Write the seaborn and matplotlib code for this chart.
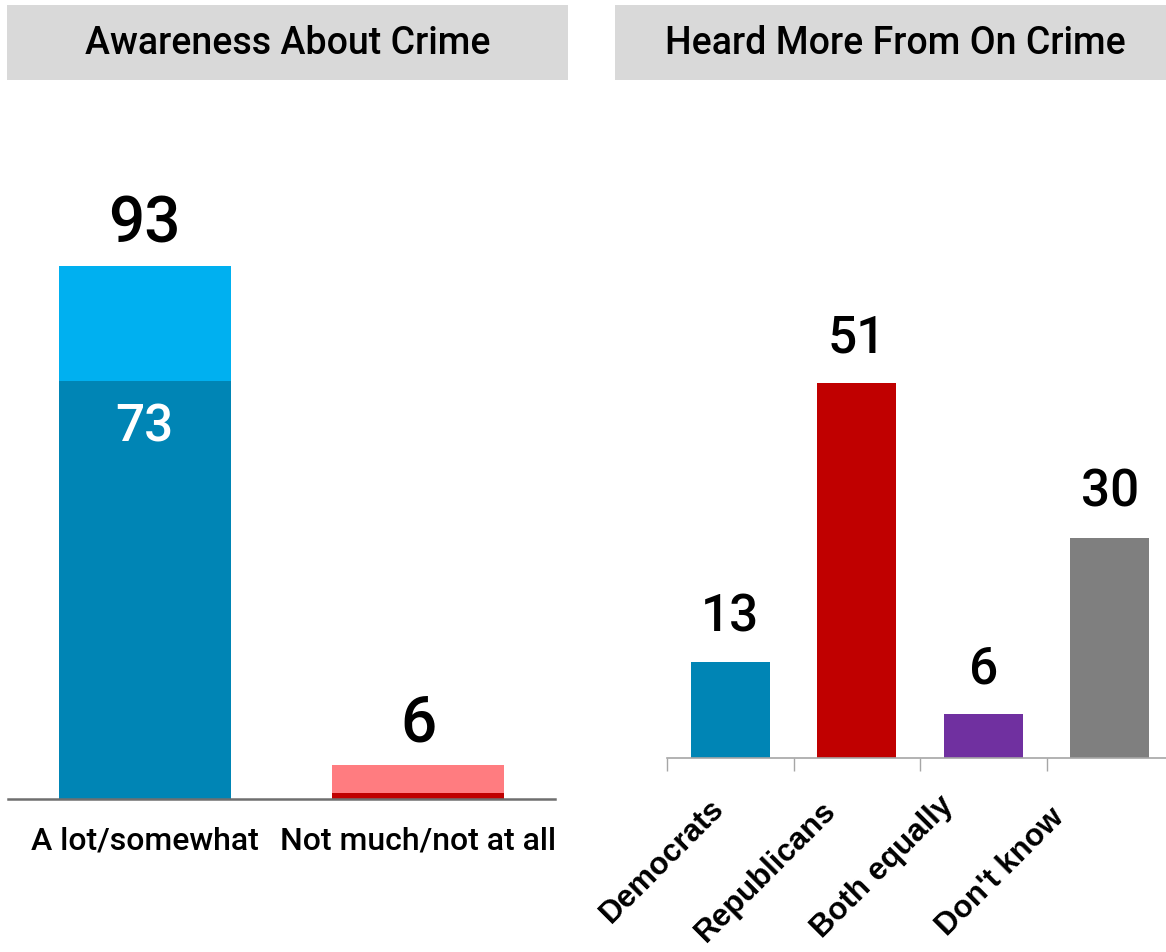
import matplotlib
matplotlib.use("Agg")
import matplotlib.pyplot as plt
from matplotlib.patches import Rectangle
import seaborn as sns
import pandas as pd

# Awareness panel: total share and the stronger sub-share inside it
awareness_cats = ["A lot/somewhat", "Not much/not at all"]
awareness_total = [93, 6]
awareness_inner = [73, 1]

# Heard-more-from panel
heard_cats = ["Democrats", "Republicans", "Both equally", "Don't know"]
heard_vals = [13, 51, 6, 30]

panel_titles = ["Awareness About Crime", "Heard More From On Crime"]

total_colors = ["#00B0F0", "#FF7C80"]
inner_colors = ["#0085B5", "#C00000"]
heard_colors = ["#0085B5", "#C00000", "#7030A0", "#7F7F7F"]

sns.set_theme(style="white")
plt.rcParams["font.family"] = ["Roboto", "DejaVu Sans"]

W, H = 1166, 952
fig = plt.figure(figsize=(W / 100, H / 100), dpi=100)


def px_axes(left, bottom_y, right, top_y):
    return fig.add_axes([left / W, (H - bottom_y) / H, (right - left) / W, (bottom_y - top_y) / H])


# ---- header boxes ----
for (x0, x1), title, tx in zip([(7, 568), (615, 1166)], panel_titles, [288, 895]):
    fig.add_artist(Rectangle((x0 / W, (H - 80) / H), (x1 - x0) / W, 75 / H,
                             transform=fig.transFigure, color="#D9D9D9", lw=0))
    fig.text(tx / W, (H - 44) / H, title, ha="center", va="center",
             fontsize=27, fontweight="medium", color="black")

bar_kw = dict(saturation=1, linewidth=0, edgecolor="none", legend=False)

# ---- left panel ----
ax1 = px_axes(8, 799, 555, 226)
df_a = pd.DataFrame({"cat": awareness_cats, "total": awareness_total, "inner": awareness_inner})
sns.barplot(data=df_a, x="cat", y="total", hue="cat", palette=total_colors,
            width=0.63, ax=ax1, **bar_kw)
sns.barplot(data=df_a, x="cat", y="inner", hue="cat", palette=inner_colors,
            width=0.63, ax=ax1, **bar_kw)
ax1.set_ylim(0, 100)
ax1.set_xlim(-0.5, 1.5)
for i, t in enumerate(awareness_total):
    ax1.annotate(f"{t}", (i, t), xytext=(0, 17), textcoords="offset points",
                 ha="center", va="baseline", fontsize=46, fontweight="medium",
                 color="black", annotation_clip=False)
ax1.annotate(f"{awareness_inner[0]}", (0, awareness_inner[0]), xytext=(0, -44),
             textcoords="offset points", ha="center", va="baseline",
             fontsize=37, fontweight="medium", color="white")
ax1.set_xlabel("")
ax1.set_ylabel("")
ax1.set_yticks([])
ax1.tick_params(axis="x", length=0, pad=20, labelsize=23, labelcolor="black")
for lab in ax1.get_xticklabels():
    lab.set_fontweight("medium")
for s in ["top", "right", "left"]:
    ax1.spines[s].set_visible(False)
ax1.spines["bottom"].set_color("#6F6F6F")
ax1.spines["bottom"].set_linewidth(1.8)

# ---- right panel ----
ax2 = px_axes(667, 758, 1173, 317)
df_h = pd.DataFrame({"cat": heard_cats, "val": heard_vals})
sns.barplot(data=df_h, x="cat", y="val", hue="cat", palette=heard_colors,
            width=0.625, ax=ax2, **bar_kw)
ax2.set_ylim(0, 60)
ax2.set_xlim(-0.5, 3.5)
for i, v in enumerate(heard_vals):
    ax2.annotate(f"{v}", (i, v), xytext=(0, 22), textcoords="offset points",
                 ha="center", va="baseline", fontsize=37, fontweight="medium",
                 color="black", annotation_clip=False)
ax2.set_xlabel("")
ax2.set_ylabel("")
ax2.set_yticks([])
ax2.set_xticks([-0.5, 0.5, 1.5, 2.5])
ax2.set_xticklabels([])
ax2.tick_params(axis="x", length=9, width=1, color="#A6A6A6", direction="out", bottom=True)
label_offsets = [(-8, -33), (-18, -35), (-24.5, -31), (-36.5, -40)]
for i, (name, off) in enumerate(zip(heard_cats, label_offsets)):
    ax2.annotate(name, (i, 0), xytext=off, textcoords="offset points",
                 ha="right", va="center", rotation=45, rotation_mode="anchor",
                 fontsize=22.5, fontweight="bold", family=["Liberation Sans", "DejaVu Sans"],
                 color="black", annotation_clip=False)
for s in ["top", "right", "left"]:
    ax2.spines[s].set_visible(False)
ax2.spines["bottom"].set_color("#A6A6A6")
ax2.spines["bottom"].set_linewidth(1.2)

fig.savefig("out.png", dpi=100)
